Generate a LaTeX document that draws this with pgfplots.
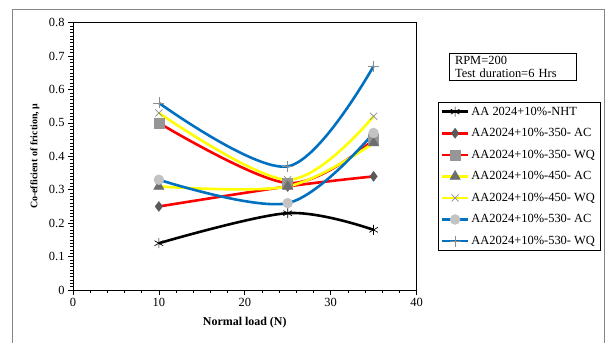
\documentclass[border=0pt]{standalone}
\usepackage{pgfplots}
\pgfplotsset{compat=1.18}
\usepackage{fontspec}
\setmainfont{Liberation Serif}
\definecolor{exred}{RGB}{255,0,0}
\definecolor{exyellow}{RGB}{255,255,0}
\definecolor{exblue}{RGB}{0,112,192}
\definecolor{mkA}{RGB}{89,89,89}
\definecolor{mkB}{RGB}{150,150,150}
\definecolor{mkC}{RGB}{110,110,110}
\definecolor{mkD}{RGB}{140,140,140}
\definecolor{mkE}{RGB}{195,195,195}
\definecolor{mkF}{RGB}{140,140,140}
\definecolor{framegray}{RGB}{134,134,134}
\newcommand{\tfont}{\fontsize{12.5}{13}\selectfont}
\begin{document}
\begin{tikzpicture}
\useasboundingbox (0bp,0bp) rectangle (611bp,343bp);
\begin{scope}
\clip (0bp,0bp) rectangle (611bp,343bp);
\draw[framegray, line width=0.8pt] (12bp,-10bp) rectangle (604.5bp,334bp);
\end{scope}
\begin{axis}[
  at={(73bp,53bp)}, anchor=south west,
  width=343.5bp, height=267.3bp, scale only axis,
  xmin=0, xmax=40, ymin=0, ymax=0.8,
  xtick={0,10,20,30,40},
  ytick={0,0.1,0.2,0.3,0.4,0.5,0.6,0.7,0.8},
  minor x tick num=4, minor y tick num=9,
  tick pos=left, tick align=outside,
  major tick length=5bp, minor tick length=3bp,
  every tick/.style={black, line width=0.6pt},
  axis line style={black, line width=0.8pt},
  ticklabel style={font=\tfont},
  /pgf/number format/assume math mode=true,
  yticklabel style={/pgf/number format/fixed, /pgf/number format/precision=1},
  xlabel={Normal load (N)},
  xlabel style={font=\fontsize{12}{14}\selectfont\bfseries, at={(axis description cs:0.5,-0.1235)}, anchor=center},
  ylabel={Co-efficient of friction, μ},
  ylabel style={font=\fontsize{10}{12}\selectfont\bfseries, at={(axis description cs:-0.1106,0.5)}, anchor=center},
  legend style={at={(1.0612,0.7033)}, anchor=north west, draw=black, line width=0.6pt,
    font=\tfont, row sep=7.8bp, inner xsep=3bp, inner ysep=2.5bp, cells={anchor=west}},
  legend image code/.code={\draw[#1, mark repeat=2, mark phase=2] plot coordinates {(0bp,0bp) (13bp,0bp) (26bp,0bp)};},
  every axis plot/.append style={line width=2.6pt, smooth, tension=0.55},
]
\addplot[black, mark=asterisk, mark size=5bp, mark options={black, line width=0.7pt}]
  coordinates {(10,0.14) (25,0.23) (35,0.18)};
\addlegendentry{AA 2024+10\%-NHT}
\addplot[exred, mark=diamond*, mark size=5bp, mark options={mkA, fill=mkA, line width=0.4pt}]
  coordinates {(10,0.25) (25,0.31) (35,0.34)};
\addlegendentry{AA2024+10\%-350- AC}
\addplot[exred, mark=square*, mark size=5bp, mark options={mkB, fill=mkB, line width=0.4pt}]
  coordinates {(10,0.50) (25,0.32) (35,0.45)};
\addlegendentry{AA2024+10\%-350- WQ}
\addplot[exyellow, mark=triangle*, mark size=6bp, mark options={mkC, fill=mkC, line width=0.4pt}]
  coordinates {(10,0.31) (25,0.31) (35,0.44)};
\addlegendentry{AA2024+10\%-450- AC}
\addplot[exyellow, mark=x, mark size=5bp, mark options={mkD, line width=0.7pt}]
  coordinates {(10,0.53) (25,0.33) (35,0.52)};
\addlegendentry{AA2024+10\%-450- WQ}
\addplot[exblue, mark=*, mark size=5bp, mark options={mkE, fill=mkE, line width=0.4pt}]
  coordinates {(10,0.33) (25,0.26) (35,0.47)};
\addlegendentry{AA2024+10\%-530- AC}
\addplot[exblue, mark=+, mark size=5.5bp, mark options={mkF, line width=0.7pt}]
  coordinates {(10,0.56) (25,0.37) (35,0.67)};
\addlegendentry{AA2024+10\%-530- WQ}
\end{axis}
\node[draw=black, line width=0.6pt, align=left, font=\tfont, text width=115bp,
  inner xsep=6bp, inner ysep=1.5bp, minimum height=27bp] at (512.5bp,276.5bp)
  {RPM=200\\Test duration=6 Hrs};
\end{tikzpicture}
\end{document}
